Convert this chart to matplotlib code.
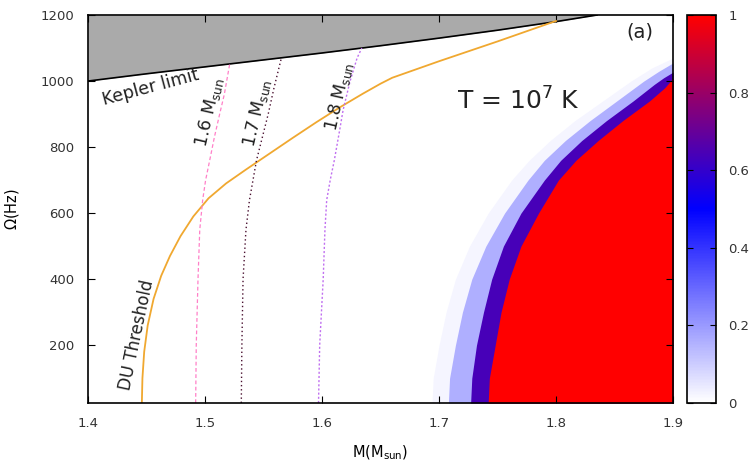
import numpy as np
import matplotlib
matplotlib.use("Agg")
import matplotlib.pyplot as plt
from matplotlib.colors import LinearSegmentedColormap, Normalize
from matplotlib.cm import ScalarMappable

# Kepler limit (M, Omega)
kepler_m = [1.40, 1.45, 1.50, 1.55, 1.60, 1.65, 1.70, 1.75, 1.80, 1.835]
kepler_w = [1000, 1022, 1043, 1064, 1085, 1107, 1130, 1154, 1180, 1200]

# DU threshold
du_m = [1.446, 1.4465, 1.448, 1.451, 1.456, 1.4625, 1.470, 1.479, 1.490, 1.503, 1.518,
        1.535, 1.555, 1.575, 1.595, 1.615, 1.635, 1.650, 1.660, 1.70, 1.75, 1.80]
du_w = [25, 100, 180, 260, 340, 410, 470, 530, 590, 645, 690,
        732, 780, 828, 875, 920, 962, 992, 1010, 1060, 1120, 1182]

# constant baryon mass lines (Omega, M)
m16_w = [25, 200, 400, 550, 640, 700, 760, 830, 900, 960, 1050]
m16_m = [1.492, 1.4925, 1.494, 1.4955, 1.498, 1.5005, 1.504, 1.508, 1.5125, 1.5165, 1.521]
m17_w = [25, 200, 400, 550, 640, 700, 760, 830, 900, 980, 1066]
m17_m = [1.531, 1.5315, 1.5325, 1.535, 1.538, 1.541, 1.544, 1.549, 1.554, 1.559, 1.565]
m18_w = [25, 200, 400, 550, 640, 700, 760, 850, 912, 1000, 1070, 1100]
m18_m = [1.597, 1.598, 1.601, 1.6025, 1.604, 1.607, 1.6105, 1.615, 1.618, 1.624, 1.630, 1.634]

# band boundaries of the coloured region (Omega, M)
band_w_red = [25, 100, 200, 300, 400, 500, 600, 700, 760, 820, 880, 940, 980, 1009]
band_m_red = [1.742, 1.743, 1.748, 1.753, 1.760, 1.770, 1.785, 1.802, 1.817, 1.836,
              1.857, 1.880, 1.893, 1.900]
band_w_pur = [25, 100, 200, 300, 400, 500, 600, 700, 760, 820, 880, 940, 990, 1010, 1027]
band_m_pur = [1.727, 1.728, 1.732, 1.738, 1.745, 1.755, 1.770, 1.790, 1.804, 1.822,
              1.843, 1.866, 1.884, 1.892, 1.900]
band_w_lav = [25, 100, 200, 300, 400, 500, 600, 700, 760, 820, 880, 940, 1000, 1030, 1055]
band_m_lav = [1.708, 1.709, 1.714, 1.720, 1.728, 1.740, 1.756, 1.776, 1.790, 1.808,
              1.829, 1.852, 1.875, 1.888, 1.900]
band_w_fnt = [25, 100, 200, 300, 400, 500, 600, 700, 760, 820, 880, 940, 1000, 1040, 1070]
band_m_fnt = [1.694, 1.695, 1.700, 1.706, 1.714, 1.726, 1.742, 1.762, 1.777, 1.795,
              1.816, 1.840, 1.864, 1.882, 1.900]
band_levels = [0.02, 0.16, 0.64, 1.0]

cmap = LinearSegmentedColormap.from_list("wbr", ["#ffffff", "#0000ff", "#ff0000"])

fig = plt.figure(figsize=(7.53, 4.62), dpi=100)
ax = fig.add_axes([0.1169, 0.1277, 0.7769, 0.8398])
cax = fig.add_axes([0.9124, 0.1277, 0.0385, 0.8398])

# coloured region
bands = [(band_w_fnt, band_m_fnt), (band_w_lav, band_m_lav),
         (band_w_pur, band_m_pur), (band_w_red, band_m_red)]
for (bw, bm), lev in zip(bands, band_levels):
    ax.fill_betweenx(bw, bm, 1.9, color=cmap(lev), lw=0)

# Kepler region
ax.fill_between(kepler_m, kepler_w, 1200, color='#aaaaaa', lw=0)
ax.plot(kepler_m, kepler_w, color='black', lw=1.2)

ax.plot(du_m, du_w, color='#f0a830', lw=1.3)
ax.plot(m16_m, m16_w, color='#ff80c8', lw=0.9, ls=(0, (3, 2)))
ax.plot(m17_m, m17_w, color='#4a1030', lw=1.0, ls=(0, (1, 2)))
ax.plot(m18_m, m18_w, color='#c070f0', lw=1.0, ls=(0, (1.5, 1.5)))

txt = dict(fontsize=12.5, color='#222222', ha='center', va='center')
ax.text(1.4535, 982, 'Kepler limit', rotation=15, **txt)
ax.text(1.5035, 905, r'1.6 M$_{\rm sun}$', rotation=77, **txt)
ax.text(1.5445, 905, r'1.7 M$_{\rm sun}$', rotation=77, **txt)
ax.text(1.6145, 955, r'1.8 M$_{\rm sun}$', rotation=77, **txt)
ax.text(1.4415, 230, 'DU Threshold', rotation=78, fontsize=12, color='#222222',
        ha='center', va='center')
ax.text(1.7675, 940, r'T = 10$^7$ K', fontsize=18, ha='center', va='center', color='#222222')
ax.text(1.872, 1150, '(a)', fontsize=14, ha='center', va='center', color='#222222')

ax.set_xlim(1.4, 1.9)
ax.set_ylim(25, 1200)
ax.set_xticks([1.4, 1.5, 1.6, 1.7, 1.8, 1.9])
ax.set_xticklabels(['1.4', '1.5', '1.6', '1.7', '1.8', '1.9'])
ax.set_yticks([200, 400, 600, 800, 1000, 1200])
ax.tick_params(direction='in', top=True, right=True, length=5, labelsize=9.5, pad=10,
               labelcolor='#333333')
ax.set_xlabel(r'M(M$_{\rm sun}$)', fontsize=10.5, labelpad=10)
ax.set_ylabel(r'$\Omega$(Hz)', fontsize=10.5, labelpad=14)
for s in ax.spines.values():
    s.set_linewidth(1.2)

sm = ScalarMappable(norm=Normalize(0, 1), cmap=cmap)
cb = fig.colorbar(sm, cax=cax)
cb.set_ticks([0, 0.2, 0.4, 0.6, 0.8, 1.0])
cb.set_ticklabels(['0', '0.2', '0.4', '0.6', '0.8', '1'])
cax.tick_params(direction='in', left=True, right=True, length=4, labelsize=9.5, pad=9,
                labelcolor='#333333')
cb.outline.set_linewidth(1.2)

plt.savefig('out.png', dpi=100)
